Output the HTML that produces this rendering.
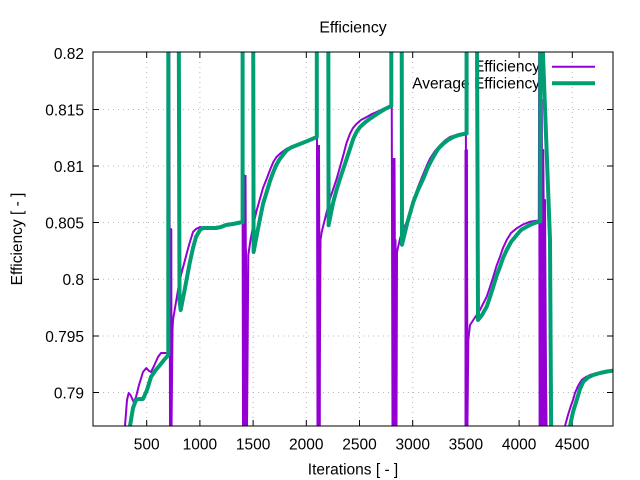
<!DOCTYPE html>
<html><head><meta charset="utf-8"><style>
html,body{margin:0;padding:0;background:#fff;}
svg{display:block;}
text{font-family:"Liberation Sans",Arial,sans-serif;fill:#000;}
</style></head><body>
<svg width="640" height="480" viewBox="0 0 640 480" xmlns="http://www.w3.org/2000/svg">
<defs><clipPath id="c"><rect x="93" y="52" width="520" height="374"/></clipPath></defs>
<rect width="640" height="480" fill="#fff"/>
<!-- grid -->
<g stroke="#b8b8b8" stroke-width="1" stroke-dasharray="1,4" fill="none">
<line x1="146.7" y1="52" x2="146.7" y2="426"/>
<line x1="199.9" y1="52" x2="199.9" y2="426"/>
<line x1="253.1" y1="52" x2="253.1" y2="426"/>
<line x1="306.3" y1="52" x2="306.3" y2="426"/>
<line x1="359.5" y1="52" x2="359.5" y2="426"/>
<line x1="412.7" y1="52" x2="412.7" y2="426"/>
<line x1="465.9" y1="52" x2="465.9" y2="426"/>
<line x1="519.1" y1="52" x2="519.1" y2="426"/>
<line x1="572.3" y1="52" x2="572.3" y2="426"/>
<line x1="93" y1="109.5" x2="613" y2="109.5"/>
<line x1="93" y1="166" x2="613" y2="166"/>
<line x1="93" y1="222.5" x2="613" y2="222.5"/>
<line x1="93" y1="279.3" x2="613" y2="279.3"/>
<line x1="93" y1="336" x2="613" y2="336"/>
<line x1="93" y1="392.5" x2="613" y2="392.5"/>
</g>
<!-- ticks -->
<g stroke="#000" stroke-width="1">
<line x1="146.7" y1="426" x2="146.7" y2="420"/><line x1="146.7" y1="52" x2="146.7" y2="58"/>
<line x1="199.9" y1="426" x2="199.9" y2="420"/><line x1="199.9" y1="52" x2="199.9" y2="58"/>
<line x1="253.1" y1="426" x2="253.1" y2="420"/><line x1="253.1" y1="52" x2="253.1" y2="58"/>
<line x1="306.3" y1="426" x2="306.3" y2="420"/><line x1="306.3" y1="52" x2="306.3" y2="58"/>
<line x1="359.5" y1="426" x2="359.5" y2="420"/><line x1="359.5" y1="52" x2="359.5" y2="58"/>
<line x1="412.7" y1="426" x2="412.7" y2="420"/><line x1="412.7" y1="52" x2="412.7" y2="58"/>
<line x1="465.9" y1="426" x2="465.9" y2="420"/><line x1="465.9" y1="52" x2="465.9" y2="58"/>
<line x1="519.1" y1="426" x2="519.1" y2="420"/><line x1="519.1" y1="52" x2="519.1" y2="58"/>
<line x1="572.3" y1="426" x2="572.3" y2="420"/><line x1="572.3" y1="52" x2="572.3" y2="58"/>
<line x1="93" y1="52" x2="99" y2="52"/><line x1="613" y1="52" x2="607" y2="52"/>
<line x1="93" y1="109.5" x2="99" y2="109.5"/><line x1="613" y1="109.5" x2="607" y2="109.5"/>
<line x1="93" y1="166" x2="99" y2="166"/><line x1="613" y1="166" x2="607" y2="166"/>
<line x1="93" y1="222.5" x2="99" y2="222.5"/><line x1="613" y1="222.5" x2="607" y2="222.5"/>
<line x1="93" y1="279.3" x2="99" y2="279.3"/><line x1="613" y1="279.3" x2="607" y2="279.3"/>
<line x1="93" y1="336" x2="99" y2="336"/><line x1="613" y1="336" x2="607" y2="336"/>
<line x1="93" y1="392.5" x2="99" y2="392.5"/><line x1="613" y1="392.5" x2="607" y2="392.5"/>
</g>
<!-- tick labels -->
<g font-size="15.5" text-anchor="end">
<text x="84" y="59">0.82</text>
<text x="84" y="115.5">0.815</text>
<text x="84" y="172">0.81</text>
<text x="84" y="228.5">0.805</text>
<text x="84" y="285">0.8</text>
<text x="84" y="342">0.795</text>
<text x="84" y="398.5">0.79</text>
</g>
<g font-size="15.5" text-anchor="middle">
<text x="146.7" y="449.5">500</text>
<text x="199.9" y="449.5">1000</text>
<text x="253.1" y="449.5">1500</text>
<text x="306.3" y="449.5">2000</text>
<text x="359.5" y="449.5">2500</text>
<text x="412.7" y="449.5">3000</text>
<text x="465.9" y="449.5">3500</text>
<text x="519.1" y="449.5">4000</text>
<text x="572.3" y="449.5">4500</text>
</g>
<text x="353" y="32.5" font-size="15.8" text-anchor="middle">Efficiency</text>
<text x="353" y="474.5" font-size="15.5" text-anchor="middle">Iterations [ - ]</text>
<text transform="translate(22,239) rotate(-90)" font-size="15.5" text-anchor="middle">Efficiency [ - ]</text>
<!-- legend series 1 -->
<text x="540" y="71.5" font-size="15.5" text-anchor="end">Efficiency</text>
<line x1="552" y1="66.7" x2="595" y2="66.7" stroke="#9400d3" stroke-width="2"/>
<text x="540" y="88.5" font-size="15.5" text-anchor="end">Average Efficiency</text>
<!-- purple data -->
<g clip-path="url(#c)" fill="none" stroke="#9400d3" stroke-width="2" stroke-linejoin="round">
<path d="M120,440 L125,426 L127,400 L128.7,393 L130.5,395 L133.7,402 L136,397 L139,385 L143,372 L146.3,368 L149,371 L151,372 L154,366 L158,357 L161,353 L166,353 L168.5,354 L169.3,40 L170,430 L171,229 L171.5,430 L172.5,330 L173,320 L175.5,305 L178,290 L181,275 L185,260 L189,245 L193,232 L196,229 L200,227 L203,227.5 L210,227.2 L216,227 L221,226.2 L226,224.5 L233,223.5 L240,222 L242,221.8 L242.3,40 L243,430 L244,175 L245,430 L246,250 L247,430 L248.3,255 L250.5,240 L253.3,225 L256.5,211 L260,198.7 L263,188 L266.7,178.7 L270,170 L273.3,162 L276.5,157 L280,153.7 L286.7,148.7 L296.7,144.5 L306.7,140.5 L316.3,136.5 L316.8,40 L317.5,430 L318.5,150 L319.5,430 L320.5,240 L321.7,232 L325,218.7 L330,198.7 L336.7,178.7 L343.3,155.3 L346.5,143 L350,133.7 L353,128 L356.7,123.7 L361,120 L366.7,117 L372,114 L380,110.5 L386,107.5 L391,105 L391.6,40 L392.5,430 L393.5,160 L394.5,430 L395.5,240 L396.5,430 L397,252 L400,238.7 L403,230 L406.7,222 L410,213 L413.3,201 L418,187 L423.3,174 L427,165 L430,158.7 L435,151 L440,145.3 L445,140.5 L450,137 L458,134.3 L466,133 L465.8,40 L466.2,430 L466.8,150 L467.4,430 L468.3,340 L470,325 L473.3,320 L476,316 L480,310 L483,304 L486.7,296.7 L490,287 L493.3,276.7 L496.5,266 L500,256.7 L503,248 L506.7,240 L511,233 L516.7,228.3 L523,224.5 L530,221.7 L535,221 L538.8,220.5 L539.2,40 L539.6,430 L540.4,220 L541,430 L541.8,100 L542.5,430 L543.2,150 L544,430 L545,200 L546.3,430 L547.5,430"/>
<path d="M560,440 L565,426 L568,415 L570.5,407 L573,400 L575,393 L578,386 L581.7,380 L586,377 L590,375 L597,373 L603.3,371.7 L608,371 L614,370.5"/>
</g>
<g clip-path="url(#c)" fill="#9400d3" stroke="none">
<rect x="169" y="229" width="3.3" height="197"/>
<polygon points="242.3,175 246.5,175 247.5,426 242.3,426"/>
<polygon points="316.5,145 320,145 320.8,426 316.5,426"/>
<polygon points="392,158 395.5,158 396.5,426 392,426"/>
<polygon points="464.5,150 467.8,150 468.3,426 464.5,426"/>
<rect x="539" y="100" width="3" height="326"/>
<polygon points="542,150 544,150 547.5,426 542,426"/>
</g>
<!-- legend series 2 -->
<line x1="552" y1="83.3" x2="595" y2="83.3" stroke="#009e73" stroke-width="4"/>
<!-- green data -->
<g clip-path="url(#c)" fill="none" stroke="#009e73" stroke-width="4" stroke-linejoin="round">
<path d="M128,440 L130,426 L133,408 L136,400 L139,399 L143,399 L147,390 L151,377 L155,371 L160,365 L164,360 L168.3,355 L168.3,30 L178.8,30 L179.5,300 L180.7,310 L185,288 L189.7,263 L193,248 L196,237 L200,230 L203,228 L210,228 L216,228 L221,227 L226,225 L233,224 L240,222.5 L242.6,222.3 L242.6,30 L253.2,30 L253.6,252 L257,234 L260,218.7 L263,204 L266.7,192 L270,181 L273.3,172 L276.5,164.5 L280,158.7 L286.7,150.3 L291,147.5 L296.7,145.3 L306.7,141.3 L316.8,137 L316.8,30 L328.3,30 L328.6,225.3 L331,213 L333.3,202 L336.5,190 L340,178.7 L346.7,158.7 L353.3,138.7 L356.5,132 L360,127 L365,122.5 L370,118.7 L380,112 L385,109 L391.3,106 L391.3,30 L401.7,30 L402,244.7 L407,224 L413.3,202 L418,190 L423.3,178.7 L428,167 L433.3,157 L438,149 L443.3,143.7 L448,140 L453.3,137 L459,135 L465,133.7 L466.6,133.5 L466.6,30 L477,30 L478,320 L482,315 L486.7,306.7 L490,297 L493.3,286.7 L496.5,276 L500,266.7 L503,258 L506.7,250 L511,242 L516.7,235 L521,230 L526.7,226.7 L532,224 L538.3,221.7 L540.3,221.5 L540.3,30 L542,30 L543,55 L550,240 L551.2,440"/>
<path d="M568,440 L570,426 L573,412 L576.7,400 L580,389 L583.3,381.7 L588,377.5 L593.3,375 L600,373 L607,371.5 L614,370.5"/>
</g>
<!-- border -->
<rect x="93" y="52" width="520" height="374" fill="none" stroke="#000" stroke-width="1"/>
</svg>
</body></html>
